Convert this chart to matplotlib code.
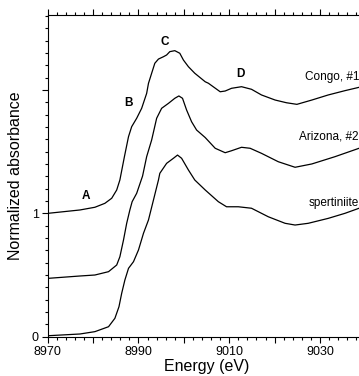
import matplotlib
matplotlib.use('Agg')
import matplotlib.pyplot as plt
from matplotlib.ticker import MultipleLocator, FuncFormatter

plt.rcParams['font.family'] = ['Liberation Sans', 'DejaVu Sans']

# energy (eV) and normalized absorbance
congo_e = [8970.1, 8977.1, 8980.4, 8982.6, 8984.1, 8985.2, 8985.9, 8986.9, 8987.8,
           8988.5, 8989.6, 8990.7, 8991.8, 8992.2, 8992.9, 8993.6, 8994.4, 8995.5,
           8996.2, 8996.9, 8998.0, 8999.1, 8999.9, 9001.0, 9002.4, 9004.7, 9005.4,
           9008.0, 9009.1, 9010.5, 9012.7, 9014.9, 9017.1, 9020.1, 9022.6, 9024.9,
           9028.2, 9031.8, 9035.5, 9038.6, 9040.0]
congo_y = [1.000, 1.027, 1.049, 1.081, 1.122, 1.189, 1.270, 1.459, 1.621,
           1.702, 1.770, 1.851, 1.972, 2.053, 2.135, 2.216, 2.250, 2.269,
           2.283, 2.310, 2.318, 2.297, 2.242, 2.188, 2.135, 2.066, 2.054,
           1.985, 1.991, 2.013, 2.026, 2.005, 1.959, 1.918, 1.896, 1.883,
           1.918, 1.959, 1.994, 2.021, 2.030]

arizona_e = [8970.1, 8977.1, 8980.4, 8983.4, 8985.2, 8985.9, 8986.7, 8987.4, 8988.1,
             8988.6, 8989.6, 8990.9, 8991.8, 8992.9, 8994.0, 8995.1, 8996.6, 8998.0,
             8998.9, 8999.7, 9000.6, 9001.7, 9002.8, 9004.7, 9006.9, 9009.1, 9010.5,
             9012.7, 9014.6, 9017.1, 9020.8, 9024.5, 9028.2, 9033.3, 9038.6, 9040.0]
arizona_y = [0.473, 0.492, 0.500, 0.527, 0.581, 0.648, 0.784, 0.919, 1.027,
             1.094, 1.162, 1.302, 1.459, 1.594, 1.770, 1.851, 1.891, 1.932,
             1.951, 1.932, 1.837, 1.742, 1.675, 1.614, 1.527, 1.491, 1.507,
             1.535, 1.527, 1.486, 1.418, 1.373, 1.400, 1.459, 1.527, 1.545]

spert_e = [8970.1, 8977.1, 8980.4, 8983.4, 8984.8, 8985.7, 8986.3, 8987.0, 8987.8,
           8988.9, 8990.0, 8991.1, 8992.2, 8993.3, 8994.4, 8994.7, 8996.2, 8997.7,
           8998.6, 8999.5, 9001.0, 9002.4, 9004.7, 9007.6, 9009.4, 9012.0, 9014.9,
           9018.6, 9022.3, 9024.5, 9027.4, 9031.8, 9035.5, 9038.6, 9040.0]
spert_y = [0.008, 0.022, 0.041, 0.081, 0.149, 0.243, 0.352, 0.459, 0.554,
           0.608, 0.703, 0.838, 0.946, 1.108, 1.270, 1.324, 1.405, 1.446,
           1.472, 1.446, 1.351, 1.270, 1.189, 1.094, 1.053, 1.053, 1.041,
           0.972, 0.919, 0.905, 0.919, 0.959, 1.000, 1.041, 1.050]

feature_labels = ['A', 'B', 'C', 'D']
feature_pos = [(8978.4, 1.14), (8987.9, 1.89), (8995.8, 2.39), (9012.4, 2.13)]

sample_names = ['Congo, #1', 'Arizona, #2', 'spertiniite']
sample_pos = [(9026.7, 2.108), (9025.4, 1.62), (9027.4, 1.081)]

fig = plt.figure(figsize=(3.59, 3.76), dpi=100)
ax = fig.add_axes([0.1329, 0.1045, 0.885, 0.8556])

for e, y in [(congo_e, congo_y), (arizona_e, arizona_y), (spert_e, spert_y)]:
    ax.plot(e, y, color='black', lw=0.9)

for lab, (x, y) in zip(feature_labels, feature_pos):
    ax.text(x, y, lab, fontsize=8.5, fontweight='bold', ha='center', va='center')

for name, (x, y) in zip(sample_names, sample_pos):
    ax.text(x, y, name, fontsize=8.5, ha='left', va='center')

ax.set_xlim(8970, 9040)
ax.set_ylim(0, 2.607)
ax.xaxis.set_major_locator(MultipleLocator(10))
ax.xaxis.set_minor_locator(MultipleLocator(2))
ax.xaxis.set_major_formatter(FuncFormatter(lambda v, p: '%d' % v if round(v) % 20 == 10 else ''))
ax.yaxis.set_major_locator(MultipleLocator(1))
ax.yaxis.set_minor_locator(MultipleLocator(0.1))
ax.yaxis.set_major_formatter(FuncFormatter(lambda v, p: '%d' % v if v < 1.5 else ''))

ax.tick_params(which='both', direction='out', top=True, right=False, labelsize=9, width=0.8)
ax.tick_params(which='major', length=4.5, pad=2)
ax.tick_params(which='minor', length=2.5)
ax.spines['right'].set_visible(False)

ax.set_xlabel('Energy (eV)', fontsize=11.5, labelpad=1)
ax.set_ylabel('Normalized absorbance', fontsize=11.5, labelpad=6)

fig.savefig('out.png', dpi=100)
